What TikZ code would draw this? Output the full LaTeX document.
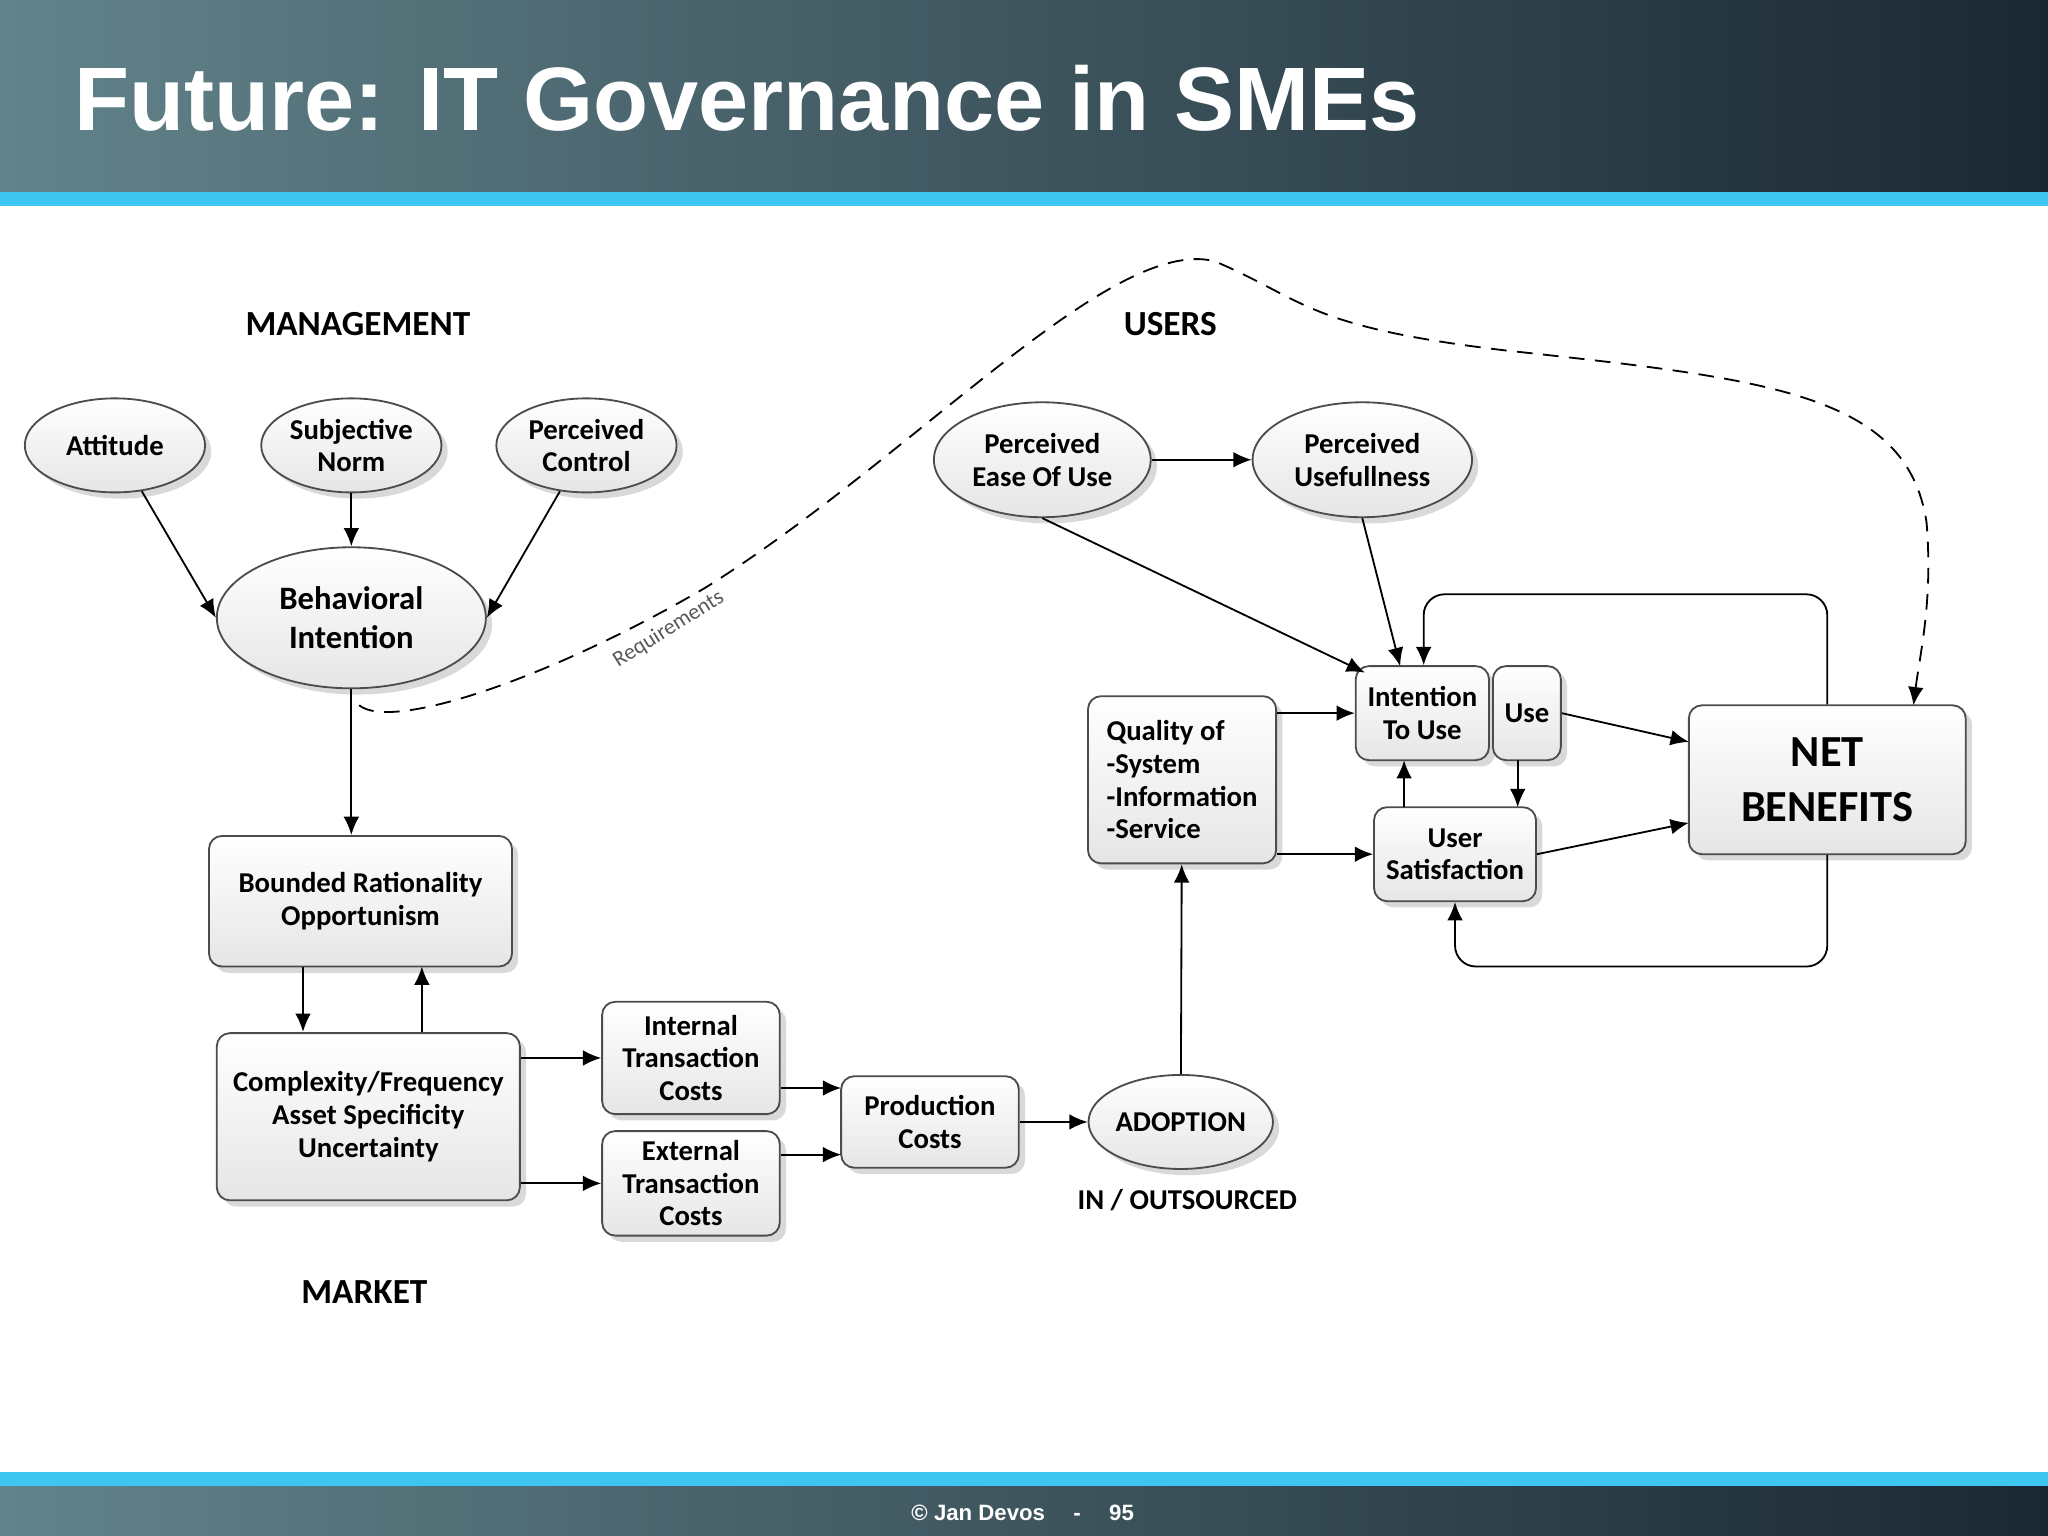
\documentclass[tikz,border=0pt]{standalone}
\usepackage{fontspec}
\setmainfont{Carlito}
\newfontfamily\arialb{Liberation Sans}
\usetikzlibrary{shapes.geometric,shadows,arrows.meta}
\definecolor{stripe}{HTML}{3EC6F0}
\definecolor{hdl}{HTML}{62838A}
\definecolor{hdr}{HTML}{1B2833}
\tikzset{
 every node/.style={font=\fontsize{11}{12.5}\selectfont\bfseries},
 ell/.style={ellipse,draw=black!70,line width=0.7pt,top color=white,bottom color=black!10,drop shadow={opacity=0.3},align=center,inner sep=0pt},
 box/.style={rectangle,rounded corners=5pt,draw=black!70,line width=0.7pt,top color=white,bottom color=black!10,drop shadow={opacity=0.3},align=center,inner sep=0pt},
 arr/.style={-{Latex[length=7pt,width=6pt]},line width=0.7pt},
 lbl/.style={font=\fontsize{13.5}{15}\selectfont\bfseries}
}
\begin{document}
\begin{tikzpicture}[x=0.5pt,y=-0.5pt]
\useasboundingbox (0,0) rectangle (1568,1176);
\shade[left color=hdl,right color=hdr] (0,0) rectangle (1568,147);
\fill[stripe] (0,147) rectangle (1568,158);
\fill[stripe] (0,1127) rectangle (1568,1138);
\shade[left color=hdl,right color=hdr] (0,1138) rectangle (1568,1176);
\node[anchor=west,text=white,font=\arialb\bfseries\fontsize{34.5}{36}\selectfont] (title) at (50,75) {Future: IT Governance in SMEs};
\node[text=white,font=\arialb\bfseries\fontsize{8.5}{9}\selectfont] (foot) at (783,1158) {© Jan Devos \quad - \quad 95};

\node[lbl] (lm) at (274,248) {MANAGEMENT};
\node[lbl] (lu) at (896,248) {USERS};
\node[lbl] (lk) at (279,989) {MARKET};
\node[font=\fontsize{11}{12}\selectfont\bfseries] (lo) at (909,919) {IN / OUTSOURCED};

\node[ell,minimum width=69pt,minimum height=36pt] (att) at (88,341) {Attitude};
\node[ell,minimum width=69pt,minimum height=36pt] (sn) at (269,341) {Subjective\\Norm};
\node[ell,minimum width=69pt,minimum height=36pt] (pc) at (449,341) {Perceived\\Control};
\node[ell,minimum width=103pt,minimum height=54pt,font=\fontsize{12.5}{15}\selectfont\bfseries] (bi) at (269,473) {Behavioral\\Intention};
\node[ell,minimum width=83pt,minimum height=44pt] (peou) at (798,352) {Perceived\\Ease Of Use};
\node[ell,minimum width=84pt,minimum height=44pt] (pu) at (1043,352) {Perceived\\Usefullness};
\node[ell,minimum width=69pt,minimum height=36pt] (ad) at (904,859) {ADOPTION};

\node[box,minimum width=116pt,minimum height=50pt] (br) at (276,690) {Bounded Rationality\\Opportunism};
\node[box,minimum width=116pt,minimum height=64pt] (cx) at (282,855) {Complexity/Frequency\\Asset Specificity\\Uncertainty};
\node[box,minimum width=68pt,minimum height=43pt] (itc) at (529,810) {Internal\\Transaction\\Costs};
\node[box,minimum width=68pt,minimum height=40pt] (etc) at (529,906) {External\\Transaction\\Costs};
\node[box,minimum width=68pt,minimum height=35pt] (pcst) at (712,859) {Production\\Costs};
\node[box,minimum width=72pt,minimum height=64pt,align=left] (q) at (905,597) {Quality of\\-System\\-Information\\-Service};
\node[box,minimum width=51pt,minimum height=36pt] (itu) at (1089,546) {Intention\\To Use};
\node[box,minimum width=26pt,minimum height=36pt] (use) at (1169,546) {Use};
\node[box,minimum width=62pt,minimum height=36pt] (us) at (1114,654) {User\\Satisfaction};
\node[box,minimum width=106pt,minimum height=57pt,font=\fontsize{17}{21}\selectfont\bfseries] (nb) at (1399,597) {NET\\BENEFITS};

\draw[arr] (att) -- (bi.west);
\draw[arr] (sn) -- (bi);
\draw[arr] (pc) -- (bi.east);
\draw[arr] (bi.south) -- (bi.south|-br.north);
\draw[arr] (232,740) -- (232,790);
\draw[arr] (323,790) -- (323,740);
\draw[arr] (cx.east|-itc.west) -- (itc.west);
\draw[arr] (cx.east|-etc.west) -- (etc.west);
\draw[arr] (598,833) -- (644,833);
\draw[arr] (598,884) -- (644,884);
\draw[arr] (pcst) -- (ad);
\draw[arr] (ad) -- (q);
\draw[arr] (q.east|-itu.west) -- (itu.west);
\draw[arr] (q.east|-us.west) -- (us.west);
\draw[arr] (peou) -- (pu);
\draw[arr] (peou.south) -- (1045,515);
\draw[arr] (pu.south) -- (1072,510);
\draw[arr,rounded corners=8pt] (nb.north) -- (1399,455) -- (1090,455) -- (itu.north-|1090,0);
\draw[arr,rounded corners=8pt] (nb.south) -- (1399,740) -- (1114,740) -- (us.south);
\draw[arr] (use.east) -- (1293,568);
\draw[arr] (us.east) -- (1293,630);
\draw[arr] (1075,618) -- (1075,582);
\draw[arr] (1162,582) -- (1162,618);
\draw[arr,dash pattern=on 6pt off 4pt] (275,540) .. controls (300,560) and (420,520) .. (540,450)
  .. controls (700,350) and (850,180) .. (930,200)
  .. controls (1000,230) and (1000,250) .. (1150,268)
  .. controls (1350,290) and (1460,300) .. (1475,400)
  .. controls (1480,460) and (1470,500) .. (1465,540);
\node[text=black!65,rotate=32,font=\fontsize{8.5}{9}\selectfont] (req) at (512,482) {Requirements};
\end{tikzpicture}
\end{document}
